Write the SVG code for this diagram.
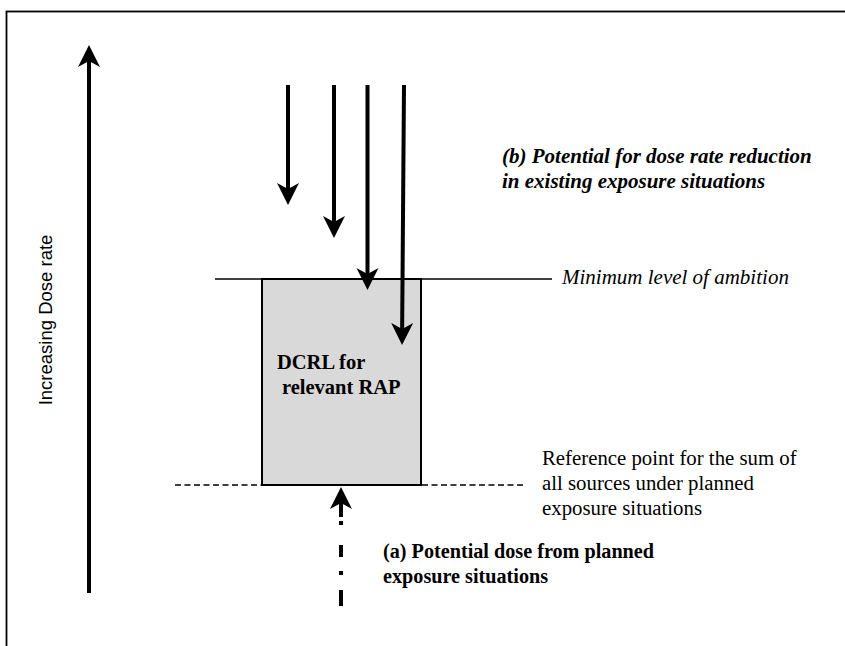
<svg xmlns="http://www.w3.org/2000/svg" width="845" height="646" viewBox="0 0 845 646">
  <style>
    .frame { fill: #fff; stroke: #000; stroke-width: 1.8; }
    .level { stroke: #000; stroke-width: 1.6; fill: none; }
    .refline { stroke: #000; stroke-width: 1.6; stroke-dasharray: 6 3.5; fill: none; }
    .shaft { stroke: #000; stroke-width: 4; fill: none; }
    .box { fill: #d9d9d9; stroke: #000; stroke-width: 2; }
    .serif { font-family: "Liberation Serif", "Times New Roman", serif; fill: #000; }
    .bold { font-weight: bold; }
    .ital { font-style: italic; }
    .sans { font-family: "Liberation Sans", Arial, sans-serif; fill: #000; }
  </style>
  <defs>
    <marker id="head" markerUnits="userSpaceOnUse" markerWidth="24" markerHeight="24"
            viewBox="0 0 24 24" refX="12" refY="12" orient="auto">
      <path d="M0,1 L22,12 L0,23 L6,12 Z" fill="#000"/>
    </marker>
  </defs>

  <rect class="frame" x="6.5" y="11.5" width="900" height="700"/>

  <!-- reference levels -->
  <g id="levels">
    <line class="level" x1="215" y1="279" x2="552" y2="279"/>
    <line class="refline" x1="175" y1="485" x2="525" y2="485"/>
  </g>

  <!-- DCRL box -->
  <g id="dcrl">
    <rect class="box" x="262" y="279" width="159" height="206"/>
    <text class="serif bold" x="277" y="369" font-size="20.5">DCRL for</text>
    <text class="serif bold" x="282" y="394" font-size="20.5">relevant RAP</text>
  </g>

  <g id="connectors">
    <!-- increasing dose-rate axis -->
    <line class="shaft" x1="89" y1="593" x2="89" y2="55" marker-end="url(#head)"/>
    <!-- reductions in existing exposure situations -->
    <line class="shaft" x1="288" y1="85" x2="288" y2="195" marker-end="url(#head)"/>
    <line class="shaft" x1="334" y1="85" x2="334" y2="228" marker-end="url(#head)"/>
    <line class="shaft" x1="367.5" y1="85" x2="367.5" y2="280" marker-end="url(#head)"/>
    <line class="shaft" x1="404" y1="85" x2="402.1" y2="335" marker-end="url(#head)"/>
    <!-- planned exposure: dash-dot arrow up to the reference point -->
    <line class="shaft" x1="341" y1="499" x2="341" y2="497" marker-end="url(#head)"/>
    <line class="shaft" x1="341" y1="499" x2="341" y2="606" stroke-dasharray="18 4 4 20 12 14 4 15 16"/>
  </g>

  <g id="labels">
    <text class="sans" font-size="18.5" text-anchor="middle" transform="translate(52,320) rotate(-90)">Increasing Dose rate</text>
    <text class="serif bold ital" x="502" y="163" font-size="21">(b) Potential for dose rate reduction</text>
    <text class="serif bold ital" x="502" y="188" font-size="21">in existing exposure situations</text>
    <text class="serif ital" x="562" y="284" font-size="21">Minimum level of ambition</text>
    <text class="serif" x="542" y="465" font-size="20.8">Reference point for the sum of</text>
    <text class="serif" x="542" y="490" font-size="20.8">all sources under planned</text>
    <text class="serif" x="542" y="515" font-size="20.8">exposure situations</text>
    <text class="serif bold" x="383" y="558" font-size="20.2">(a) Potential dose from planned</text>
    <text class="serif bold" x="383" y="583" font-size="20.2">exposure situations</text>
  </g>
</svg>
